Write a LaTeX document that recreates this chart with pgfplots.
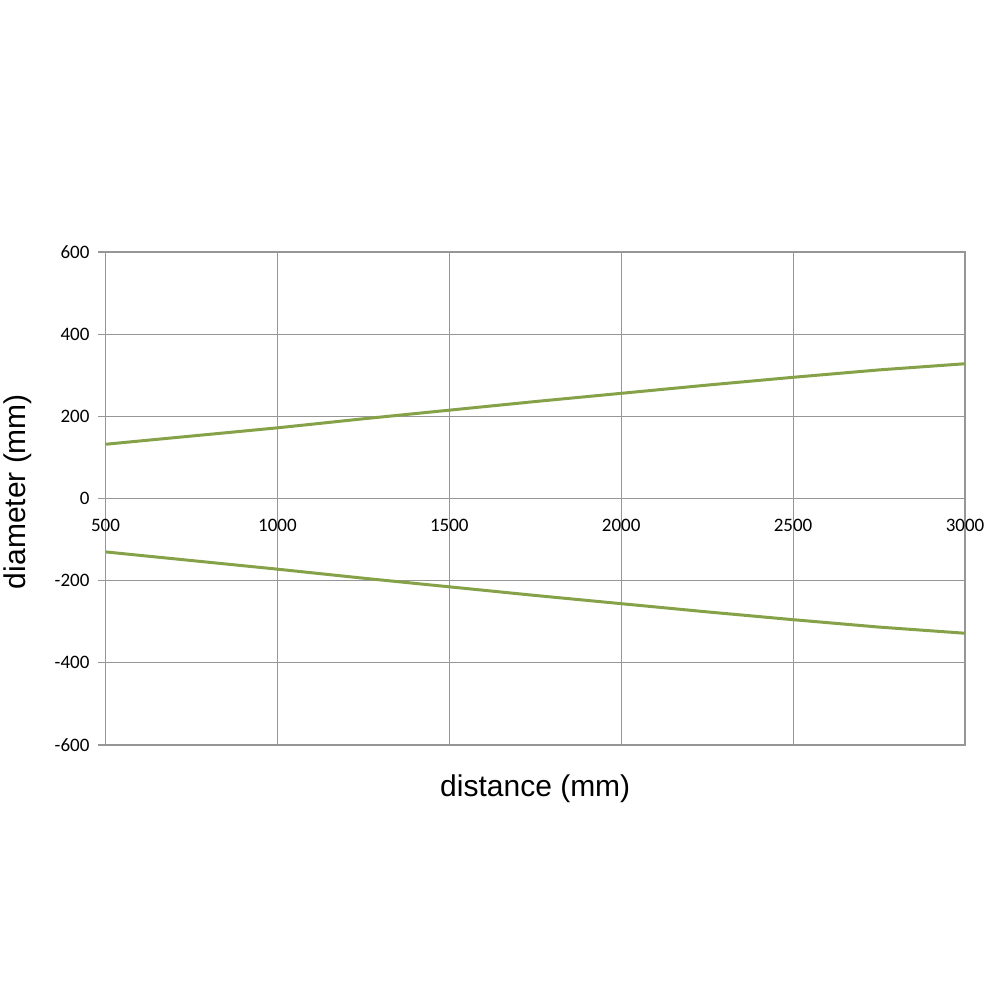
\documentclass[border=0pt]{standalone}
\usepackage{pgfplots}
\pgfplotsset{compat=1.18}
\usepackage{fontspec}
\setmainfont{Liberation Sans}
\newfontfamily\tickfont{Carlito}
\definecolor{lgreen}{RGB}{134,162,72}
\definecolor{gridgray}{RGB}{150,150,150}
\begin{document}
\begin{tikzpicture}
\useasboundingbox (0pt,0pt) rectangle (500pt,500pt);
\begin{axis}[
  at={(52.75pt,127.5pt)}, anchor=south west,
  scale only axis, width=429.75pt, height=246.5pt,
  xmin=500, xmax=3000, ymin=-600, ymax=600,
  xtick={500,1000,1500,2000,2500,3000},
  xticklabels={500,1000,1500,2000,2500,3000},
  ytick={-600,-400,-200,0,200,400,600},
  yticklabels={-600,-400,-200,0,200,400,600},
  ytick pos=left,
  grid=major,
  grid style={gridgray, line width=0.6pt},
  axis line style={gridgray, line width=0.6pt},
  tick align=outside,
  major tick length=3.5pt,
  x tick style={draw=none},
  y tick style={gridgray, line width=0.6pt},
  tick label style={font=\tickfont\fontsize{9.5}{11}\selectfont},
  xticklabel style={yshift=120pt},
  yticklabel style={xshift=-1pt},
  xlabel={distance (mm)},
  ylabel={diameter (mm)},
  label style={font=\fontsize{15}{18}\selectfont},
  xlabel style={yshift=-8pt},
  ylabel style={yshift=4.5pt, xshift=3.5pt},
]
\addplot[lgreen, line width=1.5pt] coordinates {
(500,132) (750,152) (1000,172) (1250,194) (1500,215) (1750,236) (2000,256) (2250,276) (2500,295) (2750,313) (3000,328)};
\addplot[lgreen, line width=1.5pt] coordinates {
(500,-130) (750,-151) (1000,-172) (1250,-194) (1500,-215) (1750,-236) (2000,-256) (2250,-276) (2500,-295) (2750,-313) (3000,-328)};
\end{axis}
\end{tikzpicture}
\end{document}
